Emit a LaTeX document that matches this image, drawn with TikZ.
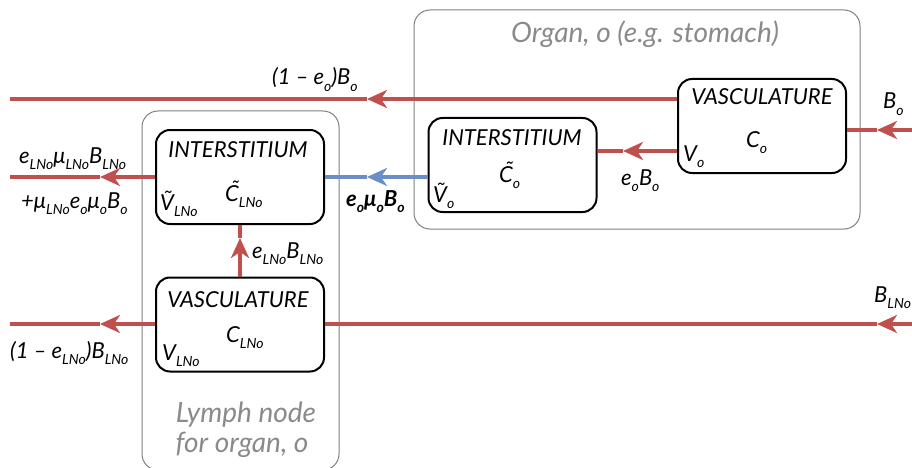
\documentclass[tikz,border=0pt]{standalone}
\usepackage{fontspec}
\setmainfont{Lato}
\usetikzlibrary{arrows.meta}
\definecolor{flowred}{HTML}{C0504D}
\definecolor{flowblue}{HTML}{6C8EC6}
\definecolor{framegray}{HTML}{808080}
\definecolor{labelgray}{HTML}{8A8A8A}
\newcommand\sbx[1]{\raisebox{-0.55ex}{\fontsize{14}{14}\selectfont #1}}
\tikzset{
  comp/.style={draw=black, line width=2pt, rounded corners=14pt, fill=white,
    minimum width=168pt, minimum height=94pt, inner sep=0pt},
  frame/.style={draw=framegray, line width=1pt, rounded corners=16pt, inner sep=0pt},
  flow/.style={draw=flowred, line width=3.4pt},
  bflow/.style={draw=flowblue, line width=3.4pt},
  tip/.style={-{Stealth[length=20pt,width=18pt,inset=6pt]}},
  txt/.style={anchor=base west, inner sep=0pt, text=black},
  ctxt/.style={anchor=base, inner sep=0pt, text=black},
  gtxt/.style={anchor=base, inner sep=0pt, text=labelgray, font=\fontsize{28}{32}\selectfont\itshape},
}
\begin{document}
\begin{tikzpicture}[x=1pt, y=-1pt, font=\fontsize{22}{26}\selectfont\itshape]
\useasboundingbox (0,0) rectangle (912,468);
% frames
\node[frame, minimum width=446pt, minimum height=219pt] (organ) at (637,119.5) {};
\node[frame, minimum width=197pt, minimum height=359pt] (lymph) at (240.5,290.5) {};
\node[gtxt] (organlbl) at (645,43) {Organ, o (e.g. stomach)};
\node[gtxt] (lymphlbl1) at (246,422) {Lymph node};
\node[gtxt] (lymphlbl2) at (242,452) {for organ, o};
% coordinates
\coordinate (topL) at (10,99);
\coordinate (topTip) at (367,99);
\coordinate (boR) at (912,130);
\coordinate (boTip) at (877,130);
\coordinate (eoTip) at (623,151);
\coordinate (blueTip) at (367,177);
\coordinate (lnoL) at (10,177);
\coordinate (lnoTip) at (100,177);
\coordinate (upTip) at (240,238);
\coordinate (botL) at (10,324);
\coordinate (botTip) at (100,324);
\coordinate (botR) at (912,324);
\coordinate (botTipR) at (877,324);
% compartments
\node[comp] (ov) at (762,126) {};
\node[comp] (oi) at (512.5,165) {};
\node[comp] (li) at (240,177) {};
\node[comp] (lv) at (240,324.5) {};
% flows
\draw[flow, tip] (ov.west |- topTip) -- (topTip);
\draw[flow] (topTip) -- (topL);
\draw[flow, tip] (boR) -- (boTip);
\draw[flow] (boTip) -- (ov.east |- boR);
\draw[flow, tip] (ov.west |- eoTip) -- (eoTip);
\draw[flow] (eoTip) -- (oi.east |- eoTip);
\draw[bflow, tip] (oi.west |- blueTip) -- (blueTip);
\draw[bflow] (blueTip) -- (li.east |- blueTip);
\draw[flow, tip] (li.west |- lnoTip) -- (lnoTip);
\draw[flow] (lnoTip) -- (lnoL);
\draw[flow, tip] (lv.north) -- (upTip);
\draw[flow] (upTip) -- (li.south);
\draw[flow, tip] (lv.west |- botTip) -- (botTip);
\draw[flow] (botTip) -- (botL);
\draw[flow, tip] (botR) -- (botTipR);
\draw[flow] (botTipR) -- (lv.east |- botR);
% box texts
\node[ctxt] (ovt) at (762,105) {VASCULATURE};
\node[txt] (ovc) at (746,147) {C\sbx{o}};
\node[txt] (ovv) at (683,161) {V\sbx{o}};
\node[ctxt] (oit) at (512,145) {INTERSTITIUM};
\node[txt] (oic) at (499,182) {\~{C}\sbx{o}};
\node[txt] (oiv) at (433,202) {\~{V}\sbx{o}};
\node[ctxt] (lit) at (238,157) {INTERSTITIUM};
\node[txt] (lic) at (225,201) {\~{C}\sbx{LNo}};
\node[txt] (liv) at (160,210) {\~{V}\sbx{LNo}};
\node[ctxt] (lvt) at (238,307) {VASCULATURE};
\node[txt] (lvc) at (226,342) {C\sbx{LNo}};
\node[txt] (lvv) at (162,360) {V\sbx{LNo}};
% flow labels
\node[txt] (l1) at (272,85) {(1 – e\sbx{o})B\sbx{o}};
\node[txt] (l2) at (883,109) {B\sbx{o}};
\node[txt] (l3) at (621,185) {e\sbx{o}B\sbx{o}};
\node[txt, font=\fontsize{22}{26}\selectfont\bfseries\itshape] (l4) at (346,206) {e\sbx{o}μ\sbx{o}B\sbx{o}};
\node[txt] (l5) at (19,163) {e\sbx{LNo}μ\sbx{LNo}B\sbx{LNo}};
\node[txt] (l6) at (21,208) {+μ\sbx{LNo}e\sbx{o}μ\sbx{o}B\sbx{o}};
\node[txt] (l7) at (252,258) {e\sbx{LNo}B\sbx{LNo}};
\node[txt] (l8) at (10,358) {(1 – e\sbx{LNo})B\sbx{LNo}};
\node[txt] (l9) at (874,302) {B\sbx{LNo}};
\end{tikzpicture}
\end{document}
